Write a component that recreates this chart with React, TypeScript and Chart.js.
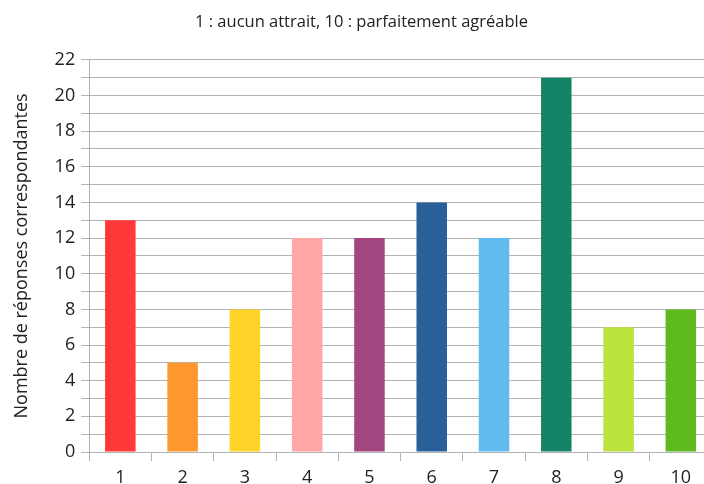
import React, { useEffect, useRef } from "react";
import { Chart, registerables } from "chart.js";

Chart.register(...registerables);

const categories = ["1", "2", "3", "4", "5", "6", "7", "8", "9", "10"];
const responses = [13, 5, 8, 12, 12, 14, 12, 21, 7, 8];
const barColors = [
  "#ff3838",
  "#ff972f",
  "#ffd428",
  "#ffa6a6",
  "#a1467e",
  "#2a6099",
  "#62bbee",
  "#158466",
  "#bbe33d",
  "#5eb91e",
];
const chartTitle = "1 : aucun attrait, 10 : parfaitement agréable";
const yAxisTitle = "Nombre de réponses correspondantes";

const FONT = "'Open Sans', 'Noto Sans', sans-serif";
const GRID = "#b3b3b3";

export default function App() {
  const ref = useRef<HTMLCanvasElement | null>(null);

  useEffect(() => {
    if (!ref.current) return;
    const chart = new Chart(ref.current, {
      type: "bar",
      data: {
        labels: categories,
        datasets: [
          {
            data: responses,
            backgroundColor: barColors,
            borderWidth: 0,
            barPercentage: 0.49,
            categoryPercentage: 1,
          },
        ],
      },
      options: {
        responsive: false,
        animation: false,
        layout: { padding: { top: 0, right: 0, bottom: 0, left: 11 } },
        plugins: {
          legend: { display: false },
          tooltip: { enabled: false },
          title: {
            display: true,
            text: chartTitle,
            color: "#222",
            font: { family: FONT, size: 16.5, weight: "normal" },
            padding: { top: 12, bottom: 28 },
          },
        },
        scales: {
          x: {
            afterFit: (scale: any) => {
              scale.height = 32;
            },
            grid: {
              offset: true,
              drawOnChartArea: false,
              drawTicks: true,
              tickLength: 9,
              color: GRID,
            },
            border: { color: GRID },
            ticks: {
              color: "#222",
              font: { family: FONT, size: 18 },
              padding: 6,
            },
          },
          y: {
            min: 0,
            max: 22,
            grid: { color: GRID, tickLength: 8 },
            border: { color: GRID },
            ticks: {
              stepSize: 1,
              autoSkip: false,
              color: "#222",
              font: { family: FONT, size: 18 },
              padding: 6,
              callback: (v: any) => (Number(v) % 2 === 0 ? String(v) : ""),
            },
            title: {
              display: true,
              text: yAxisTitle,
              color: "#222",
              font: { family: FONT, size: 18 },
              padding: { top: 0, bottom: 16 },
            },
          },
        },
      },
    });
    return () => chart.destroy();
  }, []);

  return (
    <div
      style={{
        position: "fixed",
        left: 0,
        top: 0,
        width: 704,
        height: 484,
        overflow: "hidden",
        background: "#fff",
      }}
    >
      <canvas ref={ref} width={712} height={484} style={{ display: "block" }} />
    </div>
  );
}
